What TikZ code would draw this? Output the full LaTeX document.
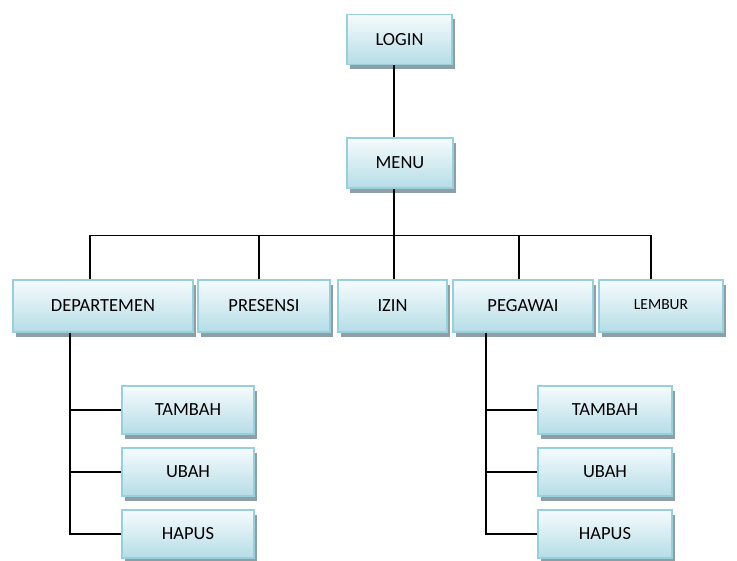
\documentclass[tikz,border=0pt]{standalone}
\usepackage{fontspec}
\setmainfont{Carlito}
\usepackage{tikz}
\usetikzlibrary{shadows}
\definecolor{rimblue}{HTML}{98CFDC}
\definecolor{topblue}{HTML}{F6FBFC}
\definecolor{botblue}{HTML}{B5DDE7}
\definecolor{shadegray}{HTML}{8C9FA6}

\begin{document}
\begin{tikzpicture}[
    x=1pt,y=-1pt,
    menubox/.style={rectangle,draw=rimblue,line width=1.3pt,top color=topblue,bottom color=botblue,
        drop shadow={shadow xshift=3pt,shadow yshift=-5pt,fill=shadegray,opacity=1},
        minimum height=50pt,inner sep=0pt,font=\fontsize{18.5}{20}\selectfont,text=black},
    subbox/.style={menubox,minimum height=48pt},
    link/.style={draw=black,line width=1.6pt}
]
\useasboundingbox (0,0) rectangle (737,561);

\node[menubox,minimum width=105pt] (login) at (399.5,39.5) {LOGIN};
\node[menubox,minimum width=106pt] (menu) at (400,163) {MENU};

\node[menubox,minimum width=180pt,minimum height=52pt] (dept) at (103,306) {DEPARTEMEN};
\node[menubox,minimum width=132pt,minimum height=52pt] (pres) at (264,306) {PRESENSI};
\node[menubox,minimum width=109pt,minimum height=52pt] (izin) at (392.5,306) {IZIN};
\node[menubox,minimum width=140pt,minimum height=52pt] (pega) at (523,306) {PEGAWAI};
\node[menubox,minimum width=124pt,minimum height=52pt,font=\fontsize{15.5}{17}\selectfont] (lemb) at (661,306) {\raisebox{3pt}{LEMBUR}};

\node[subbox,minimum width=132pt] (dtambah) at (188,410) {TAMBAH};
\node[subbox,minimum width=132pt] (dubah) at (188,472) {UBAH};
\node[subbox,minimum width=132pt] (dhapus) at (188,534) {HAPUS};

\node[subbox,minimum width=134pt] (ptambah) at (605,410) {TAMBAH};
\node[subbox,minimum width=134pt] (pubah) at (605,472) {UBAH};
\node[subbox,minimum width=134pt] (phapus) at (605,534) {HAPUS};

\draw[link] ([xshift=-5.5pt]login.south) -- ([xshift=-6pt]menu.north);
\draw[link] ([xshift=-6pt]menu.south) -- ++(0,47) coordinate (bus);
\draw[link] ([xshift=-13pt]dept.north) |- (bus);
\draw[link] ([xshift=-5pt]pres.north) |- (bus);
\draw[link] ([xshift=1.5pt]izin.north) |- (bus);
\draw[link] ([xshift=-4pt]pega.north) |- (bus);
\draw[link] ([xshift=-10pt]lemb.north) |- (bus);

\draw[link] ([xshift=-33pt]dept.south) |- (dtambah.west);
\draw[link] ([xshift=-33pt]dept.south) |- (dubah.west);
\draw[link] ([xshift=-33pt]dept.south) |- (dhapus.west);

\draw[link] ([xshift=-37pt]pega.south) |- (ptambah.west);
\draw[link] ([xshift=-37pt]pega.south) |- (pubah.west);
\draw[link] ([xshift=-37pt]pega.south) |- (phapus.west);

\end{tikzpicture}
\end{document}
